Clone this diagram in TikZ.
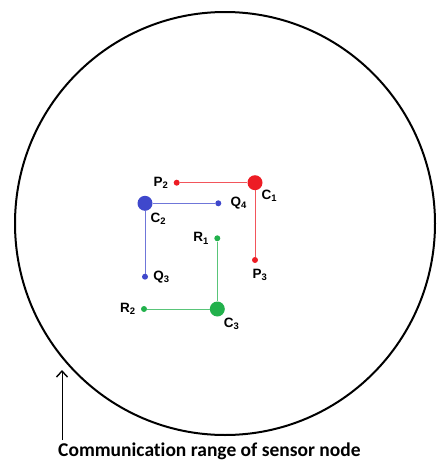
\documentclass[tikz,border=0pt]{standalone}
\usepackage{fontspec}
\setmainfont{Liberation Sans}
\newfontfamily\captionfont[Ligatures=NoCommon]{Carlito}
\usetikzlibrary{positioning, arrows.meta}
\definecolor{pred}{RGB}{237,28,36}
\definecolor{qblue}{RGB}{63,72,204}
\definecolor{rgreen}{RGB}{34,177,76}
\tikzset{
  % cluster heads and members
  headdot/.style   = { circle, fill=#1, minimum size=15pt, inner sep=0 },
  memberdot/.style = { circle, fill=#1, minimum size=6pt, inner sep=0 },
  clink/.style     = { color=#1!75!white, line width=1pt },
  ptlabel/.style   = { font=\fontsize{13.5}{14}\selectfont\bfseries, inner sep=0pt },
  % range circle and caption
  rangecircle/.style = { line width=2pt },
  rangearrow/.style  = { line width=1pt, -{Straight Barb[length=6pt, width=11pt, line width=1.4pt]} },
  rangecaption/.style = { font=\captionfont\fontsize{19.5}{21}\selectfont\bfseries, inner sep=0pt }
}
\begin{document}
\begin{tikzpicture}[x=1pt, y=-1pt]
  \useasboundingbox (0,0) rectangle (437,463);

  \draw[rangecircle] (225,223.5) ellipse [x radius=210, y radius=211.5];

  \node[headdot=pred] (c1) at (255,182.7) {};
  \node[memberdot=pred] (p2) at (176.7,182.7) {};
  \node[memberdot=pred] (p3) at (255,260) {};

  \node[headdot=qblue] (c2) at (145,203.3) {};
  \node[memberdot=qblue] (q4) at (218.3,203.3) {};
  \node[memberdot=qblue] (q3) at (145,276.7) {};

  \node[headdot=rgreen] (c3) at (217.3,309) {};
  \node[memberdot=rgreen] (r1) at (217.3,238.3) {};
  \node[memberdot=rgreen] (r2) at (144,309) {};

  \draw[clink=pred] (p2) -- (c1);
  \draw[clink=pred] (c1) -- (p3);
  \draw[clink=qblue] (c2) -- (q4);
  \draw[clink=qblue] (c2) -- (q3);
  \draw[clink=rgreen] (r1) -- (c3);
  \draw[clink=rgreen] (c3) -- (r2);

  \node[ptlabel, below right=2pt and 1pt of c1] (c1lbl) {C\textsubscript{1}};
  \node[ptlabel, left=5pt of p2] (p2lbl) {P\textsubscript{2}};
  \node[ptlabel, below=6pt of p3, xshift=5pt] (p3lbl) {P\textsubscript{3}};
  \node[ptlabel, below right=4pt and 0pt of c2] (c2lbl) {C\textsubscript{2}};
  \node[ptlabel, right=9pt of q4] (q4lbl) {Q\textsubscript{4}};
  \node[ptlabel, right=5pt of q3] (q3lbl) {Q\textsubscript{3}};
  \node[ptlabel, below right=3pt and 1pt of c3] (c3lbl) {C\textsubscript{3}};
  \node[ptlabel, left=5pt of r1] (r1lbl) {R\textsubscript{1}};
  \node[ptlabel, left=5pt of r2] (r2lbl) {R\textsubscript{2}};

  \node[rangecaption, anchor=base west] (caption) at (58,456) {Communication range of sensor node};
  \coordinate (rangetip) at (62,370);
  \draw[rangearrow] (caption.north west -| rangetip) ++(0,-2) -- (rangetip);

\end{tikzpicture}
\end{document}
